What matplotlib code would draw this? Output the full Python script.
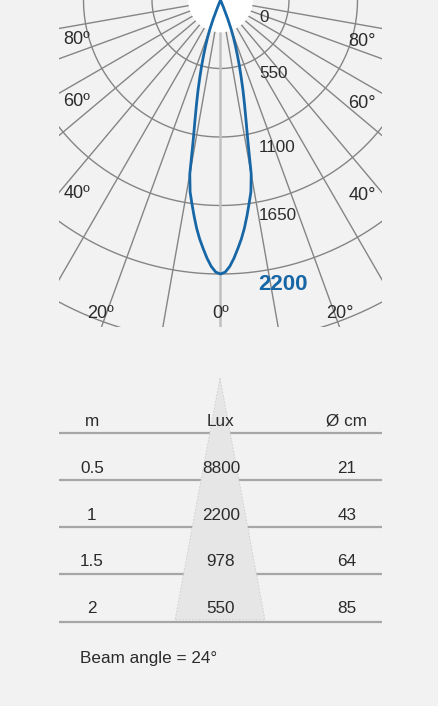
import numpy as np
import matplotlib
matplotlib.use("Agg")
import matplotlib.pyplot as plt
from matplotlib.patches import Circle, Polygon

# ---------------- data ----------------
ring_values = [550, 1100, 1650, 2200, 2750]
ring_labels = ["0", "550", "1100", "1650", "2200"]
spoke_angles = [-80, -70, -60, -50, -40, -30, -20, -10, 10, 20, 30, 40, 50, 60, 70, 80]
left_angle_labels = ["80º", "60º", "40º", "20º"]
right_angle_labels = ["80°", "60°", "40°", "20°"]
center_angle_label = "0º"

# beam curve (one half, symmetric): angle from axis (deg) -> lux
beam_angles = [0, 1, 2, 3, 4, 5, 6, 7, 8, 9, 10, 11, 12, 13, 14, 15, 16, 17, 18, 19, 20, 21, 22, 22.5]
beam_lux = [2200, 2185, 2140, 2075, 2000, 1925, 1840, 1745, 1650, 1560, 1420, 1150, 985, 855,
            745, 640, 550, 465, 390, 320, 250, 165, 65, 0]

header = ["m", "Lux", "Ø cm"]
dist_m = ["0.5", "1", "1.5", "2"]
lux_vals = ["8800", "2200", "978", "550"]
diam_cm = ["21", "43", "64", "85"]
beam_angle = 24

# ---------------- layout ----------------
W, H = 439, 706
BG = "#f2f2f2"
TXT = "#2b2b2b"
BLUE = "#1766a6"
GRID = "#858585"
FONT = "Liberation Sans"

fig = plt.figure(figsize=(W / 100, H / 100), dpi=100)
fig.patch.set_facecolor(BG)

# polar diagram region (pixels)
x0, x1, y0, y1 = 59, 382, 0, 327
cx, cy = 220.5, 0.0
PX = 68.5 / 550.0  # pixels per lux

ax = fig.add_axes([x0 / W, 1 - y1 / H, (x1 - x0) / W, (y1 - y0) / H])
ax.set_xlim((x0 - cx) / PX, (x1 - cx) / PX)
ax.set_ylim(-(y1 - cy) / PX, (cy - y0) / PX)
ax.axis("off")

t = np.radians(np.linspace(-100, 100, 400))
for r in ring_values:
    ax.plot(r * np.sin(t), -r * np.cos(t), color=GRID, lw=1.0, zorder=1)

R = 5000
for a in spoke_angles:
    ar = np.radians(a)
    ax.plot([0, R * np.sin(ar)], [0, -R * np.cos(ar)], color=GRID, lw=1.0, zorder=1)
ax.axvline(0, color="#c0c0c0", lw=1.8, zorder=1.5)

ax.add_patch(Circle((0, 0), 260, facecolor="white", edgecolor="none", zorder=3))

ang = np.radians(np.concatenate([-np.array(beam_angles[::-1]), np.array(beam_angles[1:])]))
lux = np.concatenate([np.array(beam_lux[::-1]), np.array(beam_lux[1:])])
ax.plot(lux * np.sin(ang), -lux * np.cos(ang), color=BLUE, lw=2.0, zorder=4,
        solid_capstyle="round", solid_joinstyle="round")

# overlay axes in pixel coordinates
ov = fig.add_axes([0, 0, 1, 1])
ov.set_xlim(0, W)
ov.set_ylim(H, 0)
ov.axis("off")
ov.set_zorder(5)

fs = 12.3
# radial labels
ring_label_pos = [(259, 17), (259, 73), (259, 147), (259, 216)]
for lab, (x, y) in zip(ring_labels[:4], ring_label_pos):
    ov.text(x, y, lab, fontsize=fs, color=TXT, family=FONT, ha="left", va="center")
ov.text(258, 285, ring_labels[4], fontsize=16, color=BLUE, family=FONT,
        fontweight="bold", ha="left", va="center")

# angle labels
left_pos = [(77, 39), (77, 101), (77, 193), (101, 314)]
right_pos = [(362, 41), (362, 103), (362, 195), (340, 314)]
for lab, (x, y) in zip(left_angle_labels, left_pos):
    ov.text(x, y, lab, fontsize=13, color=TXT, family=FONT, ha="center", va="center")
for lab, (x, y) in zip(right_angle_labels, right_pos):
    ov.text(x, y, lab, fontsize=13, color=TXT, family=FONT, ha="center", va="center")
ov.text(221, 314, center_angle_label, fontsize=13, color=TXT, family=FONT, ha="center", va="center")

# ---------------- table ----------------
line_y = [433, 479.5, 526.5, 574, 621.5]
for y in line_y:
    ov.plot([59, 382], [y, y], color="#a6a6a6", lw=1.6, zorder=1, solid_capstyle="butt")

tri = Polygon([(220, 378), (175, 620), (265, 620)], closed=True, facecolor="#e6e6e6",
              edgecolor="#cdcdcd", lw=0.6, linestyle=(0, (2, 2)), zorder=2)
ov.add_patch(tri)

col_x = [92, 221, 347]
header_y = 421
for x, lab in zip(col_x, header):
    ov.text(x, header_y, lab, fontsize=fs, color=TXT, family=FONT, ha="center", va="center", zorder=3)

row_y = [468.5, 515, 561.5, 608.5]
for y, a, b, c in zip(row_y, dist_m, lux_vals, diam_cm):
    for x, lab in zip(col_x, (a, b, c)):
        ov.text(x, y, lab, fontsize=fs, color=TXT, family=FONT, ha="center", va="center", zorder=3)

ov.text(80, 658, f"Beam angle = {beam_angle}°", fontsize=fs, color=TXT, family=FONT,
        ha="left", va="center")

fig.savefig("out.png", dpi=100, facecolor=BG)
